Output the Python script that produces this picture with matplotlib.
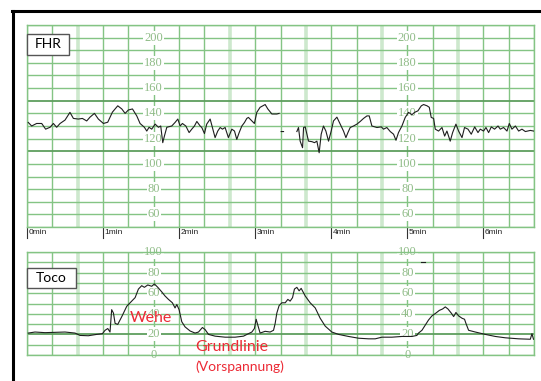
import numpy as np
import matplotlib
matplotlib.use("Agg")
import matplotlib.pyplot as plt
from matplotlib.lines import Line2D
from matplotlib.patches import Rectangle

# FHR trace (time in s, bpm); nan = signal loss
fhr_t = [1.0, 3.7, 7.6, 11.6, 14.7, 18.2, 20.8, 23.4, 26.1, 30.0, 33.9, 36.6, 40.5, 43.7,
         47.1, 49.7, 53.2, 56.3, 60.3, 63.7, 67.4, 71.6, 74.8, 77.4, 80.0, 83.2, 86.6, 89.2,
         92.6, 94.5, 96.3, 98.4, 101.1, 103.7, 105.5, 107.1, 108.4, 110.3, 114.2, 116.8,
         119.0, 120.8, 122.6, 125.3, 127.9, 130.0, 132.1, 134.0, 136.6, 137.9, 140.0, 141.8,
         144.5, 146.3, 148.4, 150.5, 152.4, 154.2, 156.3, 158.9, 161.6, 163.7, 165.5, 167.4,
         169.5, 171.6, 173.4, 174.7, 179.4, 181.3, 183.9, 187.9, 190.0, 193.2, 197.1, 198.9,
         199.7, 200.5, 202.4, 203.0,
         212.9, 214.2, 215.5, 217.4, 218.2, 219.5, 220.8, 222.1, 224.8, 226.8, 228.7, 230.5,
         232.1, 233.9, 235.8, 237.9, 240.0, 241.8, 244.5, 247.1, 249.7, 251.6, 253.2, 255.0,
         257.6, 260.3, 262.9, 265.5, 268.2, 270.0, 272.1, 276.1, 279.5, 281.3, 283.9, 286.6,
         289.2, 291.1, 293.1, 295.8, 298.4, 301.0, 303.7, 305.8, 308.4, 311.1, 312.9, 315.6,
         317.4, 318.9, 320.8, 322.1, 324.7, 327.4, 329.5, 331.3, 333.9, 335.8, 338.4, 340.5,
         343.2, 345.2, 347.9, 350.5, 353.2, 355.8, 357.6, 360.2, 362.1, 364.2, 366.3, 368.9,
         371.6, 373.4, 376.0, 378.7, 380.5, 382.6, 385.3, 387.9, 390.5, 393.2, 397.1, 399.7]
fhr_bpm = [132.8, 130, 132, 132, 127.5, 129, 132, 129, 132, 134.7, 140.8, 136, 135.5, 136,
           134, 137, 140, 135.5, 132, 133, 141, 146, 143.5, 140, 142.7, 143.5, 138, 132,
           129, 126, 129, 127.5, 131.5, 129, 130, 116.8, 122, 129, 130, 132.8,
           135.5, 130, 132, 130, 124.8, 127.5, 130, 133.6, 130, 128.8, 124, 131.5,
           135.5, 128.8, 120.8, 126, 128.8, 127.5, 128.8, 120.8, 127.5, 126, 119.4, 124.8,
           130, 132.8, 136, 136.8, 132, 140.8, 144.8, 147, 143.5, 139.5, 139.5, 140,
           np.nan, 125.6, 125.6, np.nan,
           125.6, 128.8, 118, 112.8, 128.8, 129.3, 123.5, 118, 117.6, 116.8, 118, 108.8,
           123.5, 130, 126, 118, 126, 134, 137, 131.5, 126, 120.8, 124.8, 128.8,
           130, 131.5, 133.6, 136, 138, 138, 130, 128.8, 129.3, 127.5, 128.8, 125.6,
           123.5, 118.7, 124.8, 130, 136.8, 140.8, 139, 140.8, 142, 146, 147, 146,
           144.8, 136.8, 136, 127.5, 126, 128.8, 122, 126, 118, 124.8, 131.5, 126,
           120.8, 128.8, 127.5, 123.5, 129.3, 124.8, 127.5, 126, 128.8, 124.8, 129.3, 127.5,
           130, 127.5, 128.8, 126, 132, 127.5, 130, 126, 127.5, 125.6, 126.5, 126]

# Toco trace (time in s, pressure)
toco_t = [1.0, 6.3, 14.2, 22.1, 30.0, 37.9, 41.8, 48.4, 55.0, 59.5, 61.6, 63.7, 65.5, 66.8,
          68.2, 69.5, 71.6, 74.8, 78.7, 82.6, 85.3, 87.9, 90.5, 92.6, 95.3, 98.4, 100.5,
          103.2, 106.3, 108.9, 111.6, 114.7, 116.8, 118.2, 120.0, 122.1, 124.7, 128.7, 132.6,
          135.3, 138.4, 140.5, 143.2, 148.4, 156.3, 164.2, 170.8, 174.7, 177.4, 179.4, 180.8,
          182.1, 183.9, 187.9, 191.8, 194.5, 195.8, 197.1, 198.9, 201.1, 203.7, 205.8, 207.6,
          209.5, 211.0, 212.9, 214.7, 216.3, 219.5, 223.4, 227.4, 231.3, 235.3, 240.5, 245.8,
          253.7, 261.6, 269.5, 274.7, 280.0, 287.9, 295.8, 303.7, 307.6, 308.9, 311.6, 314.2,
          316.8, 319.5, 322.6, 325.3, 327.9, 330.0, 332.1, 334.7, 336.6, 338.4, 340.5, 343.2,
          345.2, 346.3, 348.4, 353.7, 361.6, 369.5, 377.4, 387.9, 397.1, 398.4, 399.6]
toco_val = [21.3, 22.3, 21.7, 22, 22.3, 21.3, 19, 18.7, 20, 20.7, 24, 25.7, 22.3, 44,
            40.7, 30.7, 29.7, 37.3, 47.3, 52.3, 55.7, 64, 67.3, 65.7, 68, 66.7, 69,
            65.7, 61.3, 57.3, 54, 50.7, 45.7, 49, 44, 32.3, 27.3, 23.3, 21.3,
            22.3, 26.7, 24.7, 20, 18.3, 17.3, 17.3, 18.3, 20.7, 22.3, 25.7, 34.7,
            29, 21.3, 23, 22.3, 24, 30.7, 40.7, 48, 50.7, 50.7, 54, 52.3,
            55.7, 64, 65.7, 62.3, 64.7, 57.3, 50.7, 45.7, 35.7, 28, 22.3, 20,
            18, 16.3, 15.7, 15.7, 17.3, 17.3, 18, 18, 19, 21.3, 24, 29,
            34, 38, 40.7, 43.3, 44.7, 46.7, 44.7, 40.7, 37.3, 41.3, 38, 35.7,
            34.7, 30.7, 24, 22.3, 20, 18, 16.7, 15.7, 15.3, 20.7, 15.3]

minutes = [0, 1, 2, 3, 4, 5, 6]
fhr_ticks = [60, 80, 100, 120, 140, 160, 180, 200]
toco_ticks = [0, 20, 40, 60, 80, 100]

W, H = 541, 381
fig = plt.figure(figsize=(W / 100, H / 100), dpi=100)


def fx(x):
    return x / W


def fy(y):
    return 1 - y / H


grid_c = '#84c484'
pale_c = '#cde8cd'
dark_c = '#5e9e5e'
num_c = '#90bc88'

ax1 = fig.add_axes([fx(27), fy(227), 507 / W, 202 / H])
ax2 = fig.add_axes([fx(27), fy(355), 507 / W, 103 / H])


def paper(ax, ylo, yhi, thick, ticks):
    ax.set_xlim(0, 400)
    ax.set_ylim(ylo, yhi)
    ax.set_xticks([])
    ax.set_yticks([])
    for s in ax.spines.values():
        s.set_color(grid_c)
        s.set_linewidth(1.0)
    for t in range(0, 401, 20):
        if t in (40, 160, 220, 280, 340):
            ax.axvline(t, color=pale_c, lw=2.6, zorder=1)
        else:
            ax.axvline(t, color=grid_c, lw=1.0, zorder=1)
    for v in range(ylo, yhi + 1, 10):
        if v in thick:
            ax.axhline(v, color=dark_c, lw=1.3, zorder=1.5)
        else:
            ax.axhline(v, color=grid_c, lw=1.0, zorder=1)
    for xc in (100, 300):
        for v in ticks:
            ax.text(xc, v, str(v), ha='center', va='center', color=num_c,
                    fontsize=9, family='Liberation Serif', zorder=2, clip_on=False,
                    bbox=dict(boxstyle='square,pad=0.08', fc='white', ec='none'))


paper(ax1, 50, 210, (110, 150), fhr_ticks)
paper(ax2, 0, 100, (20,), toco_ticks)

ax1.plot(fhr_t, fhr_bpm, color='#1e1e1e', lw=0.8, zorder=3)
ax2.plot(toco_t, toco_val, color='#1e1e1e', lw=0.8, zorder=3)
ax2.plot([311, 314], [90, 90], color='#1e1e1e', lw=0.8, zorder=3)

# minute marks under the FHR strip
for m in minutes:
    ax1.plot([m * 60, m * 60], [0, -0.055], transform=ax1.get_xaxis_transform(),
             color='#333333', lw=0.8, clip_on=False)
    ax1.text(m * 60 + 1.2, -0.028, f'{m}min', transform=ax1.get_xaxis_transform(),
             ha='left', va='center', fontsize=6, family='Liberation Sans', color='#222222')

# outer frame
fig.add_artist(Line2D([fx(12), 1], [fy(11), fy(11)], color='black', lw=2.2))
fig.add_artist(Line2D([fx(13), fx(13)], [0, fy(11)], color='black', lw=2.2))

# channel name boxes
for name, (x0, y0, x1, y1) in {'FHR': (27, 34, 69, 55), 'Toco': (27, 268, 76, 288)}.items():
    fig.add_artist(Rectangle((fx(x0), fy(y1)), (x1 - x0) / W, (y1 - y0) / H,
                             transform=fig.transFigure, fc='white', ec='#555555', lw=1.0))
    fig.text(fx((x0 + x1) / 2), fy((y0 + y1) / 2), name, ha='center', va='center',
             fontsize=10, family='Lato', color='black', zorder=5)

red = '#ec2a35'
fig.text(fx(130), fy(318), 'Wehe', ha='left', va='center', fontsize=11.5,
         family='Lato', color=red, zorder=5)
fig.text(fx(195), fy(347), 'Grundlinie', ha='left', va='center', fontsize=11.5,
         family='Lato', color=red, zorder=5)
fig.text(fx(195), fy(367), '(Vorspannung)', ha='left', va='center', fontsize=10,
         family='Lato', color=red, zorder=5)

fig.savefig('out.png', dpi=100)
